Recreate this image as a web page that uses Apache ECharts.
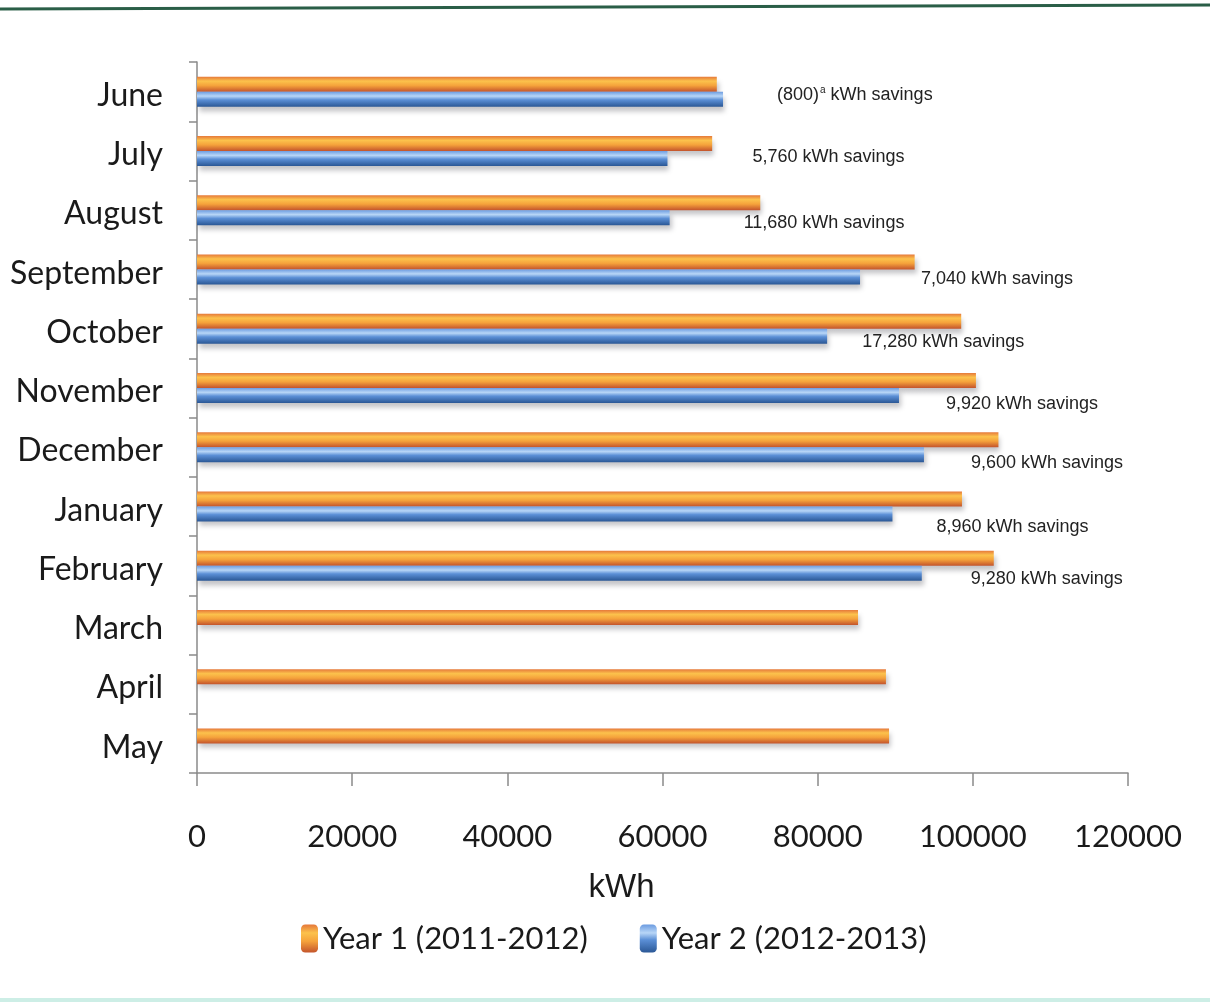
<!DOCTYPE html>
<html>
<head>
<meta charset="utf-8">
<title>Monthly electricity use, Year 1 vs Year 2</title>
<script src="https://cdn.jsdelivr.net/npm/echarts@6/dist/echarts.min.js"></script>
<style>
  html, body { margin: 0; padding: 0; background: #ffffff; }
  #chart { width: 1210px; height: 1003px; }
</style>
</head>
<body>
<div id="chart"></div>
<script>
// Months of the reporting year (June to May)
const months = ['June', 'July', 'August', 'September', 'October', 'November',
                'December', 'January', 'February', 'March', 'April', 'May'];

// Monthly consumption, kWh
const year1 = [67000, 66400, 72600, 92500, 98500, 100400, 103300, 98600, 102700, 85200, 88800, 89200];
const year2 = [67800, 60640, 60920, 85460, 81220, 90480, 93700, 89640, 93420, null, null, null];

// Reported savings per month, kWh (negative = increase)
const savings = [-800, 5760, 11680, 7040, 17280, 9920, 9600, 8960, 9280, null, null, null];

// Value axis ticks
const axisTicks = [0, 20000, 40000, 60000, 80000, 100000, 120000];

const seriesNames = ['Year 1 (2011-2012)', 'Year 2 (2012-2013)'];

// Where each savings note sits relative to the end of the Year 2 bar
const noteOffsets = [[49, -4], [80, -1], [69, 5], [56, 2], [30, 6], [42, 9], [42, 8], [39, 13], [44, 6]];

const sideFont = 'Lato, "Open Sans", sans-serif';
const noteFont = '"Liberation Sans", Arial, sans-serif';

function fmt(n) { return Math.abs(n).toLocaleString('en-US'); }

function noteText(i) {
  const s = savings[i];
  if (s == null) return '';
  return s < 0 ? '(' + fmt(s) + '){sup|a} kWh savings' : fmt(s) + ' kWh savings';
}

const orangeFill = new echarts.graphic.LinearGradient(0, 0, 0, 1, [
  { offset: 0, color: '#e5773a' },
  { offset: 0.3, color: '#fcc24c' },
  { offset: 0.6, color: '#f5a23b' },
  { offset: 1, color: '#c4552c' }
]);
const blueFill = new echarts.graphic.LinearGradient(0, 0, 0, 1, [
  { offset: 0, color: '#6b9be0' },
  { offset: 0.3, color: '#b8d6f7' },
  { offset: 0.55, color: '#5b8fd6' },
  { offset: 1, color: '#2b5896' }
]);

const barShadow = {
  shadowColor: 'rgba(60,60,70,0.3)',
  shadowBlur: 5,
  shadowOffsetX: 2,
  shadowOffsetY: 5
};

const chart = echarts.init(document.getElementById('chart'), null, { renderer: 'canvas' });

chart.setOption({
  animation: false,
  backgroundColor: '#ffffff',
  grid: { left: 197, right: 82, top: 62, bottom: 230, containLabel: false },
  legend: {
    data: seriesNames,
    left: 296,
    top: 918,
    itemWidth: 17,
    itemHeight: 28,
    itemGap: 52,
    textStyle: { fontFamily: sideFont, fontSize: 31, color: '#1a1a1a' },
    selectedMode: false
  },
  xAxis: {
    type: 'value',
    min: axisTicks[0],
    max: axisTicks[axisTicks.length - 1],
    interval: axisTicks[1] - axisTicks[0],
    name: 'kWh',
    nameLocation: 'middle',
    nameGap: 98,
    nameTextStyle: {
      fontFamily: noteFont,
      fontSize: 33,
      color: '#1a1a1a',
      padding: [0, 82, 0, 0]
    },
    axisLine: { show: true, lineStyle: { color: '#8a8a8a', width: 1.5 } },
    axisTick: { show: true, length: 13, lineStyle: { color: '#8a8a8a', width: 1.5 } },
    splitLine: { show: false },
    axisLabel: {
      margin: 48,
      fontFamily: sideFont,
      fontSize: 31,
      color: '#1a1a1a',
      formatter: v => String(v)
    }
  },
  yAxis: {
    type: 'category',
    data: months,
    inverse: true,
    axisLine: { show: true, lineStyle: { color: '#8a8a8a', width: 1.5 } },
    axisTick: { show: true, length: 8, lineStyle: { color: '#8a8a8a', width: 1.5 } },
    axisLabel: {
      margin: 34,
      color: '#1a1a1a',
      formatter: v => '{m|' + v + '}',
      rich: {
        m: {
          fontFamily: sideFont,
          fontSize: 32,
          color: '#1a1a1a',
          padding: [8, 0, 0, 0]
        }
      }
    }
  },
  series: [
    {
      name: seriesNames[0],
      type: 'bar',
      data: year1,
      barWidth: 15,
      barGap: '0%',
      itemStyle: Object.assign({ color: orangeFill }, barShadow)
    },
    {
      name: seriesNames[1],
      type: 'bar',
      data: year2.map((v, i) => v == null ? '-' : {
        value: v,
        label: {
          show: true,
          position: 'right',
          offset: noteOffsets[i],
          formatter: () => noteText(i)
        }
      }),
      barWidth: 15,
      itemStyle: Object.assign({ color: blueFill }, barShadow),
      label: {
        fontFamily: noteFont,
        fontSize: 18,
        color: '#222222',
        rich: {
          sup: {
            fontFamily: noteFont,
            fontSize: 10,
            color: '#222222',
            padding: [0, 0, 9, 1]
          }
        }
      }
    }
  ],
  graphic: [
    {
      type: 'line',
      shape: { x1: 0, y1: 9, x2: 1210, y2: 5 },
      style: { stroke: '#2a5e47', lineWidth: 3 },
      silent: true
    },
    {
      type: 'line',
      shape: { x1: 0, y1: 1000, x2: 1210, y2: 1000 },
      style: { stroke: '#cdeee6', lineWidth: 4 },
      silent: true
    }
  ]
});
</script>
</body>
</html>
